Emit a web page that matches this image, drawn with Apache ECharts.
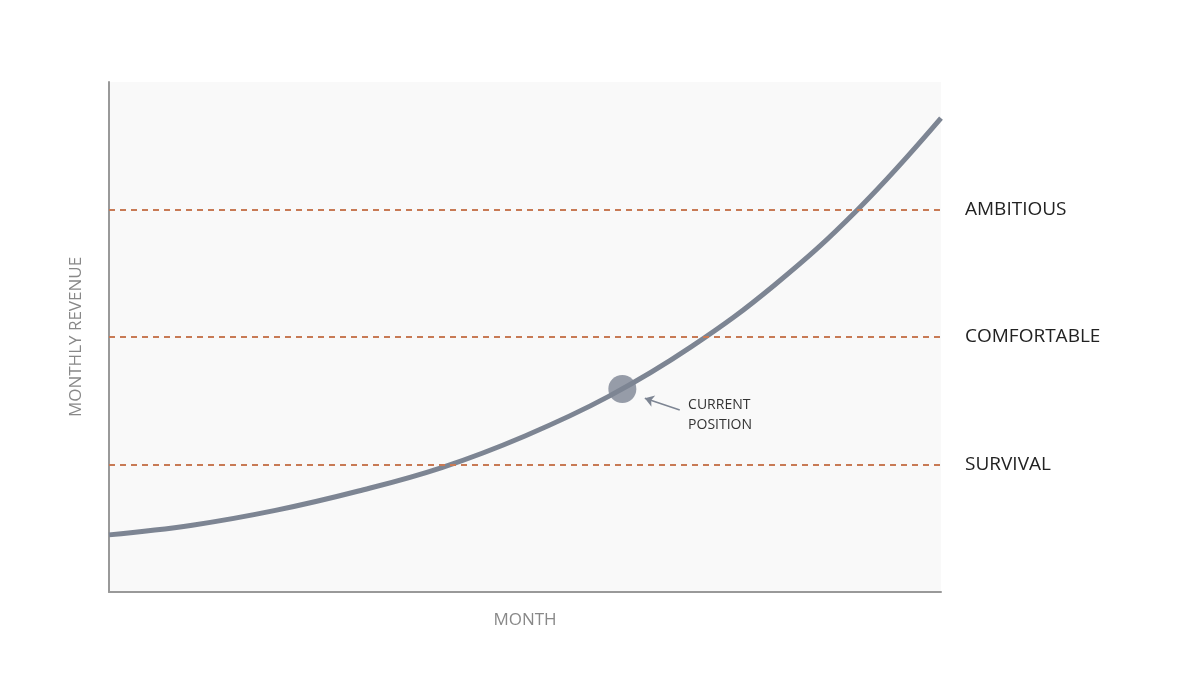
<!DOCTYPE html>
<html><head><meta charset="utf-8">
<script src="https://cdn.jsdelivr.net/npm/echarts@6/dist/echarts.min.js"></script>
<style>html,body{margin:0;background:#fff}#c{width:1200px;height:675px}</style>
</head><body><div id="c"></div>
<script>
const curveX = [0, 10, 20, 30, 40, 50, 60, 70, 80, 90, 100];
const curveY = [11.2, 13.1, 16, 19.8, 24.4, 30.6, 38.3, 48.1, 60.2, 75, 92.9];
const current = [61.7, 39.8];
const levelNames = ['SURVIVAL', 'COMFORTABLE', 'AMBITIOUS'];
const levelValues = [25, 50, 75];

const chart = echarts.init(document.getElementById('c'));
const font = '"Open Sans", Lato, sans-serif';
chart.setOption({
  animation: false,
  grid: {left: 109, right: 259, top: 82, bottom: 83, show: true, backgroundColor: '#f9f9f9', borderWidth: 0},
  xAxis: {type: 'value', min: 0, max: 100, name: 'MONTH', nameLocation: 'middle', nameGap: 20,
    nameTextStyle: {color: '#888', fontSize: 17, fontFamily: font},
    axisLine: {lineStyle: {color: '#999', width: 2}}, axisTick: {show: false}, axisLabel: {show: false}, splitLine: {show: false}},
  yAxis: {type: 'value', min: 0, max: 100, name: 'MONTHLY REVENUE', nameLocation: 'middle', nameGap: 24,
    nameTextStyle: {color: '#888', fontSize: 17, fontFamily: font},
    axisLine: {show: true, lineStyle: {color: '#999', width: 2}}, axisTick: {show: false}, axisLabel: {show: false}, splitLine: {show: false}},
  series: [
    {type: 'line', smooth: 0.4, symbol: 'none', data: curveX.map((x, i) => [x, curveY[i]]),
     lineStyle: {color: '#7d8593', width: 5}, z: 3},
    {type: 'line', data: [], z: 2,
     markLine: {silent: true, symbol: 'none',
       lineStyle: {color: '#c87a55', type: [6, 5], width: 2},
       label: {position: 'end', distance: 24, color: '#222', fontSize: 19, fontFamily: font, formatter: '{b}'},
       data: levelValues.map((v, i) => ({name: levelNames[i], yAxis: v}))}},
    {type: 'scatter', data: [current], symbolSize: 28, itemStyle: {color: '#7d8593'}, z: 4},
    {type: 'line', data: [], markLine: {silent: true, symbol: ['none', 'arrow'], symbolSize: 9,
       lineStyle: {color: '#7d8593', width: 1.5, type: 'solid'}, label: {show: false},
       data: [[{coord: [68.6, 35.7]}, {coord: [64.4, 38.0]}]]},
     markPoint: {symbol: 'circle', symbolSize: 0, data: [{coord: [69.6, 34.8]}],
       label: {show: true, position: 'right', distance: 0, formatter: 'CURRENT\nPOSITION', color: '#333', fontSize: 14, lineHeight: 20, fontFamily: font}}}
  ]
});
</script></body></html>
